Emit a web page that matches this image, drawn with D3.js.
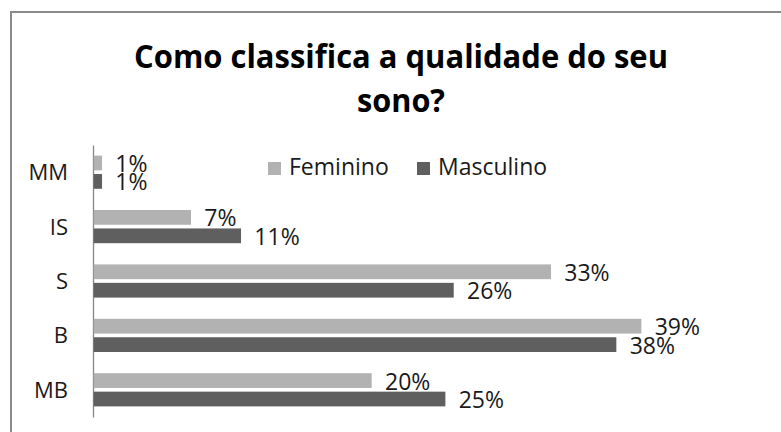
<!DOCTYPE html>
<html>
<head>
<meta charset="utf-8">
<script src="https://cdn.jsdelivr.net/npm/d3@7"></script>
<style>
  html, body { margin: 0; padding: 0; background: #fff; }
  svg { display: block; }
  text { font-family: "Open Sans", sans-serif; }
</style>
</head>
<body>
<svg id="chart" width="781" height="432"></svg>
<script>
// ---- data ----
const categories = ["MM", "IS", "S", "B", "MB"];
const seriesNames = ["Feminino", "Masculino"];
const feminino  = [0.6, 7.0, 32.9, 39.4, 20.0];   // percent
const masculino = [0.6, 10.6, 25.9, 37.6, 25.3];  // percent
const titleLines = ["Como classifica a qualidade do seu", "sono?"];

const colors = { Feminino: "#b2b2b2", Masculino: "#5f5f5f" };

const rows = categories.map((c, i) => ({
  cat: c,
  values: [
    { series: "Feminino", v: feminino[i] / 100 },
    { series: "Masculino", v: masculino[i] / 100 }
  ]
}));

const svg = d3.select("#chart");
svg.append("rect").attr("width", 781).attr("height", 432).attr("fill", "#fff");

// chart frame (cropped: only top and left visible)
svg.append("path")
  .attr("d", "M11,433 L11,12 L781,12")
  .attr("fill", "none")
  .attr("stroke", "#8a8a8a")
  .attr("stroke-width", 2);

// title
const titleWidths = [534, 88];
svg.selectAll("text.title")
  .data(titleLines)
  .join("text")
  .attr("class", "title")
  .attr("x", 401)
  .attr("y", (d, i) => 68 + i * 44)
  .attr("text-anchor", "middle")
  .attr("font-size", 33)
  .attr("font-weight", "bold")
  .attr("fill", "#000")
  .attr("textLength", (d, i) => titleWidths[i])
  .attr("lengthAdjust", "spacingAndGlyphs")
  .text(d => d);

// scales
const x0 = 93;
const x = d3.scaleLinear().domain([0, 0.45]).range([x0, x0 + 0.45 * 1390]);
const y0 = d3.scaleBand().domain(categories).range([145, 417])
  .paddingInner(0.39).paddingOuter(0.195);
const y1 = d3.scaleBand().domain(seriesNames).range([0, y0.bandwidth()])
  .paddingInner(0.2);

// axis
const axis = d3.axisLeft(y0).tickSize(0).tickSizeOuter(0).tickPadding(25);
const gAxis = svg.append("g").attr("transform", `translate(${x0},0)`).call(axis);
gAxis.select(".domain").attr("stroke", "#868686").attr("stroke-width", 1.3);
gAxis.selectAll(".tick text")
  .attr("font-family", "Open Sans, sans-serif")
  .attr("font-size", 22)
  .attr("fill", "#1a1a1a")
  .attr("dy", "0.36em");

// bars
const groups = svg.append("g").selectAll("g")
  .data(rows)
  .join("g")
  .attr("transform", d => `translate(0,${y0(d.cat)})`);

groups.selectAll("rect")
  .data(d => d.values)
  .join("rect")
  .attr("x", x(0) + 0.7)
  .attr("y", d => y1(d.series))
  .attr("width", d => x(d.v) - x(0))
  .attr("height", y1.bandwidth())
  .attr("fill", d => colors[d.series]);

const fmt = d3.format(".0%");
groups.selectAll("text.lbl")
  .data(d => d.values)
  .join("text")
  .attr("class", "lbl")
  .attr("x", d => x(d.v) + 14)
  .attr("y", d => y1(d.series) + y1.bandwidth() / 2 + 9)
  .attr("font-size", 23)
  .attr("fill", "#1a1a1a")
  .text(d => fmt(d.v));

// legend
const legendPos = [268, 417];
const lg = svg.append("g").selectAll("g")
  .data(seriesNames)
  .join("g")
  .attr("transform", (d, i) => `translate(${legendPos[i]},162)`);
lg.append("rect")
  .attr("width", 13).attr("height", 13)
  .attr("fill", d => colors[d]);
lg.append("text")
  .attr("x", 21).attr("y", 13)
  .attr("font-size", 23)
  .attr("fill", "#1a1a1a")
  .text(d => d);
</script>
</body>
</html>
